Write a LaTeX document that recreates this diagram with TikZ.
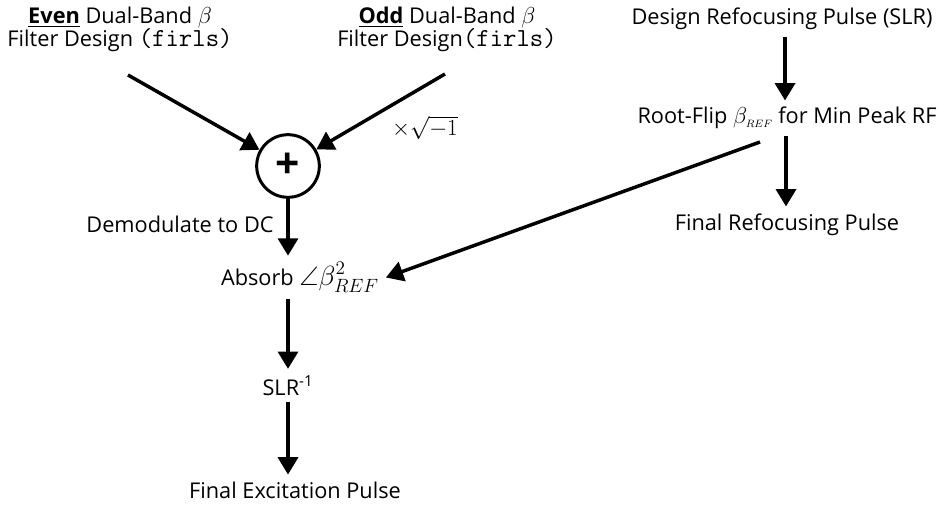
\documentclass[tikz,border=0pt]{standalone}
\usepackage{amsmath}
\usepackage{amssymb}
\usepackage{fontspec}
\setmainfont{Open Sans}
\usetikzlibrary{arrows.meta, calc}
\newcommand{\code}[1]{{\fontsize{19.5}{17}\selectfont\ttfamily #1}}

\begin{document}
\begin{tikzpicture}[x=0.75pt, y=-0.75pt,
        flow/.style={line width=2.6pt, -{Triangle[length=13pt, width=15pt]}},
        lbl/.style={font=\fontsize{16.3}{17.3}\selectfont, align=center, inner sep=5pt}]
        \useasboundingbox (0,0) rectangle (948,506);

        % left column
        \node[lbl] (even) at (120,29) {\underline{\textbf{Even}} Dual-Band $\beta$\\Filter Design \code{(firls)}};
        \node[lbl] (odd) at (447,29) {\underline{\textbf{Odd}} Dual-Band $\beta$\\Filter Design\code{(firls)}};
        \node[circle, draw, line width=2.25pt, minimum size=47pt, inner sep=0pt] (sum) at (288,166) {\fontsize{32}{32}\selectfont\bfseries +};
        \node[lbl] (sqrt) at (425,128) {$\times\sqrt{-1}$};
        \node[lbl, anchor=base] (demod) at (180,232) {Demodulate to DC};
        \node[lbl, anchor=base] (absorb) at (300,285) {Absorb {\fontsize{20}{20}\selectfont$\angle\beta^2_{REF}$}};
        \node[lbl, anchor=base] (slrinv) at (288,395) {SLR\textsuperscript{-1}};
        \node[lbl, anchor=base] (finalexc) at (295,498) {Final Excitation Pulse};

        % right column
        \node[lbl, anchor=base] (refdesign) at (782,25) {Design Refocusing Pulse (SLR)};
        \node[lbl, anchor=base] (rootflip) at (787,124) {Root-Flip $\beta_{\scriptscriptstyle REF}$ for Min Peak RF};
        \node[lbl, anchor=base] (finalref) at (787,230) {Final Refocusing Pulse};

        \coordinate (ev) at (128,75);
        \coordinate (od) at (445,74);
        \coordinate (rf) at (760,142);

        \draw[flow] (ev) -- (sum);
        \draw[flow] (od) -- (sum);
        \draw[flow] (sum.south) -- (sum.south |- absorb.north);
        \draw[flow] (sum |- absorb.south) -- (slrinv.north);
        \draw[flow] (slrinv.south) -- (slrinv.south |- finalexc.north);

        \draw[flow] (refdesign.south -| 785,0) -- (785,0 |- rootflip.north);
        \draw[flow] (rootflip.south -| 786,0) -- (786,0 |- finalref.north);
        \draw[flow] (rf) -- (absorb.east);

    \end{tikzpicture}
\end{document}
